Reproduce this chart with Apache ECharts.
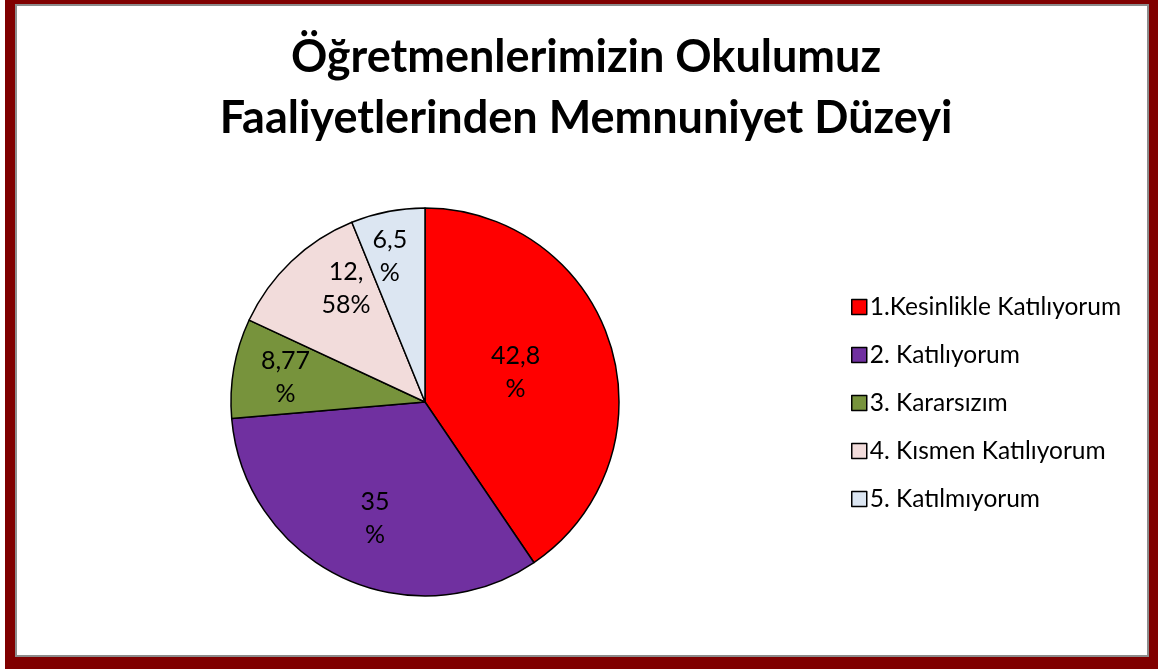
<!DOCTYPE html>
<html>
<head>
<meta charset="utf-8">
<script src="https://cdn.jsdelivr.net/npm/echarts@6/dist/echarts.min.js"></script>
<style>
  html, body { margin: 0; padding: 0; background: #fff; overflow: hidden; }
  #chart { position: absolute; left: 0; top: 0; width: 1158px; height: 669px; }
  #frame {
    position: absolute; left: 5px; top: -6px; width: 1154px; height: 675px;
    box-sizing: border-box;
    border-style: solid; border-color: #800000;
    border-width: 10px 10px 12px 10px;
    box-shadow: inset 0 0 0 2px #8c8c8c;
    pointer-events: none;
  }
</style>
</head>
<body>
<div id="chart"></div>
<div id="frame"></div>
<script>
const titleText = 'Öğretmenlerimizin Okulumuz\nFaaliyetlerinden Memnuniyet Düzeyi';
const categories = ['1.Kesinlikle Katılıyorum', '2. Katılıyorum', '3. Kararsızım', '4. Kısmen Katılıyorum', '5. Katılmıyorum'];
const values = [42.8, 35, 8.77, 12.58, 6.5];
const colors = ['#FF0000', '#7030A0', '#77933C', '#F2DCDB', '#DCE6F2'];
// label nudges (px) to mimic the original's label placement
const labelOffsets = [[-5, 0], [-7, 26], [-41, -7], [-10, -41], [-16, -47]];

function labelText(v) {
  const s = String(v).replace('.', ',');
  if (s.length > 4) {
    const i = s.indexOf(',') + 1;
    return s.slice(0, i) + '\n' + s.slice(i) + '%';
  }
  return s + '\n%';
}

const chart = echarts.init(document.getElementById('chart'), null, { renderer: 'canvas' });
chart.setOption({
  backgroundColor: '#ffffff',
  animation: false,
  title: {
    text: titleText,
    left: 581,
    textAlign: 'center',
    top: 22,
    textStyle: {
      fontFamily: 'Lato',
      fontWeight: 'bold',
      fontSize: 45,
      lineHeight: 61,
      color: '#000'
    }
  },
  legend: {
    orient: 'vertical',
    left: 846,
    top: 289,
    itemWidth: 15,
    itemHeight: 15,
    itemGap: 22,
    icon: 'rect',
    data: categories,
    itemStyle: { borderColor: '#000', borderWidth: 1.5 },
    textStyle: { fontFamily: 'Lato', fontSize: 24.5, lineHeight: 26, color: '#000', padding: [0, 0, 0, -2] }
  },
  series: [{
    type: 'pie',
    center: [425, 402],
    radius: 194,
    startAngle: 90,
    clockwise: true,
    silent: true,
    itemStyle: { borderColor: '#000', borderWidth: 1.5 },
    label: {
      show: true,
      position: 'inside',
      fontFamily: 'Lato',
      fontSize: 25,
      lineHeight: 33,
      color: '#000',
      align: 'center',
      formatter: p => labelText(p.value)
    },
    labelLine: { show: false },
    data: categories.map((c, i) => ({
      name: c,
      value: values[i],
      itemStyle: { color: colors[i] },
      label: { offset: labelOffsets[i] }
    }))
  }]
});
</script>
</body>
</html>
